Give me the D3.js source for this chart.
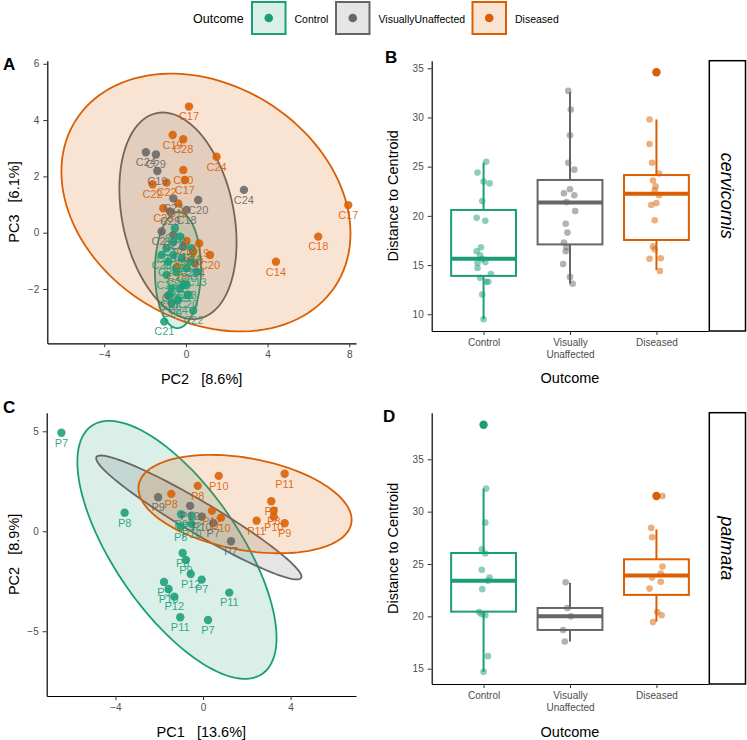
<!DOCTYPE html>
<html><head><meta charset="utf-8">
<script src="https://cdn.jsdelivr.net/npm/d3@7"></script>
<style>
body{margin:0;background:#fff;}
text{font-family:"Liberation Sans",Arial,Helvetica,sans-serif;}
</style>
</head><body>
<svg id="chart" width="747" height="740"></svg>
<script>
// ---------------- DATA ----------------
const outcomes = ["Control", "VisuallyUnaffected", "Diseased"];
const outcomeColors = ["#1B9E77", "#666666", "#D95F02"];
const boxCategories = ["Control", "Visually Unaffected", "Diseased"];
const species = ["cervicornis", "palmata"];

// Panel A (PC2 vs PC3, cervicornis): [PC2, PC3, label]
const pcaA_Control = [[-1.06,-3.16,"C21"],[0.36,-2.77,"C22"],[-0.7,-2.51,"C20"],[-0.95,-0.55,"C19"],[-0.62,-0.79,"C23"],[-0.29,-0.14,"C14"],[-0.87,-1.03,"C28"],[-0.46,-1.39,"C20"],[-0.13,-1.86,"C18"],[-0.29,-1.98,"C29"],[-0.95,-1.5,"C22"],[0.03,-1.26,"C10"],[0.2,-1.03,"C24"],[-0.62,-0.32,"C17"],[0.52,-1.39,"C13"],[-0.21,-0.91,"C21"],[-0.7,-1.98,"C19"],[0.28,-0.55,"C14"],[-1.19,-0.79,"C28"],[-0.54,0.16,"C18"],[0.03,-1.86,"C23"],[-0.8,-2.2,"C17"],[-0.4,-2.4,"C24"],[0.1,-2.2,"C20"]];
const pcaA_Visually = [[-1.96,2.86,"C24"],[-1.47,2.78,"C29"],[-1.4,2.19,"C19"],[2.84,1.52,"C24"],[0.6,1.16,"C20"],[-0.62,1.22,"C23"],[0.03,0.81,"C18"],[-0.78,0.75,"C29"],[-1.19,0.04,"C21"],[-0.62,-0.08,"C22"],[-0.13,-0.5,"C13"],[0.44,-1.09,"C24"],[-0.87,-2.24,"C10"]];
const pcaA_Diseased = [[0.15,4.48,"C17"],[-0.65,3.47,"C19"],[-0.13,3.32,"C28"],[1.5,2.7,"C24"],[-0.13,2.23,"C10"],[-0.05,1.87,"C17"],[-1.63,1.72,"C22"],[-0.95,1.78,"C22"],[-0.38,1.04,"C13"],[-1.11,0.87,"C23"],[7.95,0.98,"C17"],[6.48,-0.14,"C18"],[4.41,-1.03,"C14"],[1.18,-0.79,"C20"],[0.65,-0.38,"C19"],[0.03,-0.29,"C13"],[0.36,-0.67,"C10"],[-0.43,-1.21,"C28"]];
// ellipses: [centerX, centerY, halfExtentX, halfExtentY, yOffsetAtRightmost]
const ellipseA = [[-0.39,-1.33,1.13,2.06,0.05],[-0.39,0.60,2.87,3.67,-0.95],[0.98,1.07,7.08,4.58,-1.10]];
const ticksA_x = [-4, 0, 4, 8];
const ticksA_y = [-2, 0, 2, 4, 6];

// Panel C (PC1 vs PC2, palmata)
const pcaC_Control = [[-6.47,4.93,"P7"],[-3.58,0.93,"P8"],[-1.0,0.85,"P9"],[-0.52,0.78,"P12"],[-1.02,0.23,"P8"],[-0.52,0.37,"P10"],[-0.93,-1.09,"P8"],[-0.78,-1.44,"P9"],[-0.56,-2.14,"P12"],[-0.06,-2.42,"P7"],[-1.78,-2.54,"P9"],[-1.57,-2.89,"P10"],[-1.31,-3.27,"P12"],[1.2,-3.07,"P11"],[-1.04,-4.3,"P11"],[0.23,-4.44,"P7"]];
const pcaC_Visually = [[-2.05,1.7,"P9"],[-0.59,1.27,"P12"],[-0.05,0.73,"P10"],[0.47,0.41,"P7"],[1.28,-0.5,"P7"]];
const pcaC_Diseased = [[0.72,2.77,"P10"],[3.73,2.88,"P11"],[-0.24,2.27,"P8"],[-1.45,1.87,"P8"],[0.41,1.02,"P12"],[0.82,0.68,"P10"],[3.12,1.5,"P7"],[3.23,1.03,"P8"],[3.23,0.73,"P10"],[2.45,0.53,"P11"],[3.73,0.40,"P9"]];
const ellipseC = [[-1.19,-0.93,4.55,6.45,-4.4],[-0.19,0.69,4.69,3.1,-2.96],[1.92,1.36,4.87,2.46,-0.79]];
const ticksC_x = [-4, 0, 4];
const ticksC_y = [-5, 0, 5];

// Panel B (distance to centroid, cervicornis): box stats [lowerWhisker, q1, median, q3, upperWhisker]
const statsB = [[9.5,13.9,15.65,20.6,25.4],[13.1,17.1,21.35,23.65,32.6],[14.5,17.55,22.25,24.15,29.8]];
const outliersB = [[], [], [34.6]];
const distB_Control = [25.5,24.4,23.5,23.3,21.5,19.8,19.5,16.8,16.4,16.0,15.6,15.3,15.2,14.7,14.1,13.7,13.3,13.3,12.0,9.5];
const jitB_Control = [0.03,-0.07,0,0.07,-0.015,-0.08,0.02,-0.03,-0.08,-0.04,-0.015,0.02,-0.07,-0.07,0.085,-0.04,0.03,0.055,-0.015,0];
const distB_Visually = [32.7,30.8,28.2,25.4,24.7,22.7,22.3,22.1,21.4,20.5,19.2,18.3,17.3,16.8,16.4,15.1,13.8,13.1];
const jitB_Visually = [-0.02,0.01,0,-0.02,0.05,0,-0.07,0.05,-0.04,0.06,-0.05,-0.03,-0.07,-0.04,-0.05,-0.08,0,0.03];
const distB_Diseased = [34.6,29.8,27.3,25.4,24.3,23.6,23.0,22.6,22.1,21.1,21.3,19.55,16.9,16.6,15.65,15.7,14.4];
const jitB_Diseased = [0,-0.08,-0.08,-0.05,0.03,-0.04,-0.01,-0.02,0.03,-0.06,0,-0.02,-0.04,-0.02,-0.08,0.05,0.04];
const ticksB_y = [10, 15, 20, 25, 30, 35];

// Panel D (distance to centroid, palmata)
const statsD = [[14.7,20.45,23.4,26.05,32.2],[17.6,18.7,20.0,20.8,23.2],[19.5,22.05,23.9,25.45,28.3]];
const outliersD = [[38.3], [], [31.5]];
const distD_Control = [38.3,32.2,28.95,26.4,26.0,24.45,23.7,23.4,22.6,20.4,20.2,20.1,16.2,14.7];
const jitD_Control = [0,0.03,0.02,-0.02,0.02,-0.02,0.07,0.05,-0.015,-0.05,-0.02,0.02,0.05,0];
const distD_Visually = [23.25,20.8,20.0,18.7,17.6];
const jitD_Visually = [-0.05,-0.03,0.01,-0.08,-0.06];
const distD_Diseased = [31.5,28.45,27.55,24.75,24.1,23.7,23.3,22.65,20.4,20.1,19.45];
const jitD_Diseased = [0.07,-0.06,-0.05,0.07,0.05,-0.05,0.05,-0.08,0.01,0.06,-0.04];
const ticksD_y = [15, 20, 25, 30, 35];

// ---------------- DRAWING ----------------
const svg = d3.select("#chart");
const tickCol = "#4d4d4d";

function styleAxis(g) {
  g.select(".domain").attr("stroke", "#000").attr("stroke-width", 1.2);
  g.selectAll(".tick line").attr("stroke", "#333").attr("stroke-width", 1);
  g.selectAll(".tick text").attr("fill", tickCol).attr("font-size", 10)
    .attr("font-family", '"Liberation Sans", Arial, sans-serif');
}

function ellipsePts(e, x, y) {
  const [cx, cy, rx, ry, k] = e;
  const d = Math.sqrt(Math.max(ry * ry - k * k, 0));
  return d3.range(121).map(i => {
    const t = 2 * Math.PI * i / 120;
    return [x(cx + rx * Math.cos(t)), y(cy + k * Math.cos(t) + d * Math.sin(t))];
  });
}

function pcaPanel(opt) {
  const g = svg.append("g");
  const x = d3.scaleLinear().domain(opt.xDom).range(opt.xRange);
  const y = d3.scaleLinear().domain(opt.yDom).range(opt.yRange);
  // ellipses
  opt.ellipses.forEach((e, i) => {
    g.append("path").attr("d", d3.line()(ellipsePts(e, x, y)) + "Z")
      .attr("fill", outcomeColors[i]).attr("fill-opacity", 0.17)
      .attr("stroke", outcomeColors[i]).attr("stroke-width", 1.8);
  });
  const order = [2, 1, 0];
  order.forEach(i => {
    g.selectAll(null).data(opt.groups[i]).enter().append("circle")
      .attr("cx", d => x(d[0])).attr("cy", d => y(d[1])).attr("r", 4.2)
      .attr("fill", outcomeColors[i]).attr("fill-opacity", 0.88);
  });
  order.forEach(i => {
    g.selectAll(null).data(opt.groups[i]).enter().append("text")
      .attr("x", d => x(d[0])).attr("y", d => y(d[1]) + 10)
      .attr("dy", "0.35em").attr("text-anchor", "middle")
      .attr("font-size", 11).attr("fill", outcomeColors[i]).attr("fill-opacity", 0.9)
      .text(d => d[2]);
  });
  const ax = g.append("g").attr("transform", `translate(0,${opt.yRange[0]})`)
    .call(d3.axisBottom(x).tickValues(opt.xTicks).tickSize(4).tickSizeOuter(0).tickPadding(4).tickFormat(d3.format("d")));
  styleAxis(ax);
  const ay = g.append("g").attr("transform", `translate(${opt.xRange[0]},0)`)
    .call(d3.axisLeft(y).tickValues(opt.yTicks).tickSize(4).tickSizeOuter(0).tickPadding(4).tickFormat(d3.format("d")));
  styleAxis(ay);
  g.append("text").attr("x", (opt.xRange[0] + opt.xRange[1]) / 2).attr("y", opt.xTitleY)
    .attr("text-anchor", "middle").attr("dy", "0.35em").attr("font-size", 14.5)
    .style("white-space", "pre").text(opt.xTitle);
  g.append("text").attr("transform", `translate(${opt.yTitleX},${(opt.yRange[0] + opt.yRange[1]) / 2}) rotate(-90)`)
    .attr("text-anchor", "middle").attr("dy", "0.35em").attr("font-size", 14.5)
    .style("white-space", "pre").text(opt.yTitle);
  g.append("text").attr("x", opt.letterX).attr("y", opt.letterY).attr("dy", "0.35em")
    .attr("font-size", 17).attr("font-weight", "bold").text(opt.letter);
}

function boxPanel(opt) {
  const g = svg.append("g");
  const x = d3.scalePoint().domain(boxCategories).range(opt.xRange).padding(0.6);
  const y = d3.scaleLinear().domain(opt.yDom).range(opt.yRange);
  const step = x.step();
  const bw = step * 0.75;
  boxCategories.forEach((c, i) => {
    const s = opt.stats[i];
    const cx = x(c);
    const col = outcomeColors[i];
    g.append("line").attr("x1", cx).attr("x2", cx).attr("y1", y(s[0])).attr("y2", y(s[1]))
      .attr("stroke", col).attr("stroke-width", 2);
    g.append("line").attr("x1", cx).attr("x2", cx).attr("y1", y(s[3])).attr("y2", y(s[4]))
      .attr("stroke", col).attr("stroke-width", 2);
    g.append("rect").attr("x", cx - bw / 2).attr("width", bw).attr("y", y(s[3]))
      .attr("height", y(s[1]) - y(s[3])).attr("fill", "#fff").attr("stroke", col).attr("stroke-width", 2);
    g.append("line").attr("x1", cx - bw / 2).attr("x2", cx + bw / 2).attr("y1", y(s[2])).attr("y2", y(s[2]))
      .attr("stroke", col).attr("stroke-width", 4);
    g.selectAll(null).data(opt.outliers[i]).enter().append("circle")
      .attr("cx", cx).attr("cy", d => y(d)).attr("r", 4.2).attr("fill", col);
    g.selectAll(null).data(opt.values[i]).enter().append("circle")
      .attr("cx", (d, j) => cx + opt.jitter[i][j] * step).attr("cy", d => y(d)).attr("r", 3.3)
      .attr("fill", col).attr("fill-opacity", 0.5);
  });
  const ax = g.append("g").attr("transform", `translate(0,${opt.yRange[0]})`)
    .call(d3.axisBottom(x).tickSize(4).tickSizeOuter(0).tickPadding(4).tickFormat(() => ""));
  styleAxis(ax);
  ax.selectAll(".tick").each(function(d) {
    const parts = d === "Visually Unaffected" ? ["Visually", "Unaffected"] : [d];
    const t = d3.select(this).append("text").attr("fill", tickCol).attr("font-size", 10)
      .attr("text-anchor", "middle").attr("y", 8).attr("dy", "0.71em");
    parts.forEach((p, k) => t.append("tspan").attr("x", 0).attr("dy", k === 0 ? "0.71em" : "1.15em").text(p));
  });
  const ay = g.append("g").attr("transform", `translate(${opt.xRange[0]},0)`)
    .call(d3.axisLeft(y).tickValues(opt.yTicks).tickSize(4).tickSizeOuter(0).tickPadding(4));
  styleAxis(ay);
  // strip
  const sx0 = opt.xRange[1] + 1, sx1 = 745.5;
  g.append("rect").attr("x", sx0).attr("y", opt.yRange[1]).attr("width", sx1 - sx0)
    .attr("height", opt.yRange[0] - opt.yRange[1]).attr("fill", "#fff").attr("stroke", "#000").attr("stroke-width", 1.5);
  g.append("text").attr("transform", `translate(${(sx0 + sx1) / 2},${(opt.yRange[0] + opt.yRange[1]) / 2}) rotate(90)`)
    .attr("text-anchor", "middle").attr("dy", "0.35em").attr("font-size", 18).attr("font-style", "italic")
    .text(opt.species);
  g.append("text").attr("x", (opt.xRange[0] + opt.xRange[1]) / 2).attr("y", opt.xTitleY)
    .attr("text-anchor", "middle").attr("dy", "0.35em").attr("font-size", 14.5).text("Outcome");
  g.append("text").attr("transform", `translate(${opt.yTitleX},${(opt.yRange[0] + opt.yRange[1]) / 2}) rotate(-90)`)
    .attr("text-anchor", "middle").attr("dy", "0.35em").attr("font-size", 14.5).text("Distance to Centroid");
  g.append("text").attr("x", opt.letterX).attr("y", opt.letterY).attr("dy", "0.35em")
    .attr("font-size", 17).attr("font-weight", "bold").text(opt.letter);
}

// Legend
(function legend() {
  const g = svg.append("g");
  g.append("text").attr("x", 193).attr("y", 19).attr("dy", "0.35em").attr("font-size", 12.5).text("Outcome");
  const keyX = [252, 336, 472.5];
  outcomes.forEach((o, i) => {
    g.append("rect").attr("x", keyX[i]).attr("y", 2).attr("width", 33.5).attr("height", 32)
      .attr("fill", outcomeColors[i]).attr("fill-opacity", 0.17)
      .attr("stroke", outcomeColors[i]).attr("stroke-width", 2);
    g.append("circle").attr("cx", keyX[i] + 16.75).attr("cy", 18).attr("r", 4.3).attr("fill", outcomeColors[i]);
    g.append("text").attr("x", keyX[i] + 42.5).attr("y", 19).attr("dy", "0.35em").attr("font-size", 10.5).text(o);
  });
})();

pcaPanel({
  xDom: [-6.79, 8.33], yDom: [-3.93, 6.11], xRange: [47.3, 356], yRange: [343.3, 60.7],
  xTicks: ticksA_x, yTicks: ticksA_y, ellipses: ellipseA,
  groups: [pcaA_Control, pcaA_Visually, pcaA_Diseased],
  xTitle: "PC2   [8.6%]", yTitle: "PC3   [6.1%]", xTitleY: 379, yTitleX: 14,
  letter: "A", letterX: 3, letterY: 64
});
pcaPanel({
  xDom: [-7.14, 6.99], yDom: [-8.24, 5.93], xRange: [46.7, 356], yRange: [696, 412.7],
  xTicks: ticksC_x, yTicks: ticksC_y, ellipses: ellipseC,
  groups: [pcaC_Control, pcaC_Visually, pcaC_Diseased],
  xTitle: "PC1   [13.6%]", yTitle: "PC2   [8.9%]", xTitleY: 731.5, yTitleX: 14,
  letter: "C", letterX: 3, letterY: 407
});
boxPanel({
  xRange: [431.7, 708.3], yRange: [331, 60.7], yDom: [8.3, 35.77], yTicks: ticksB_y,
  stats: statsB, outliers: outliersB,
  values: [distB_Control, distB_Visually, distB_Diseased],
  jitter: [jitB_Control, jitB_Visually, jitB_Diseased],
  species: species[0], xTitleY: 378.3, yTitleX: 393, letter: "B", letterX: 385, letterY: 57
});
boxPanel({
  xRange: [431.7, 708.3], yRange: [684, 412.7], yDom: [13.54, 39.45], yTicks: ticksD_y,
  stats: statsD, outliers: outliersD,
  values: [distD_Control, distD_Visually, distD_Diseased],
  jitter: [jitD_Control, jitD_Visually, jitD_Diseased],
  species: species[1], xTitleY: 731.5, yTitleX: 393, letter: "D", letterX: 383, letterY: 416.5
});
</script>
</body></html>
